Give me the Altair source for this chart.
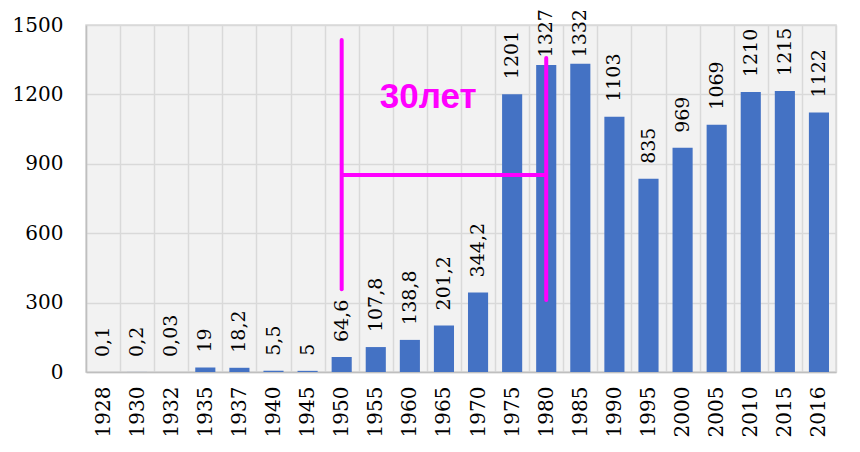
import altair as alt
import pandas as pd

years = ["1928", "1930", "1932", "1935", "1937", "1940", "1945", "1950", "1955", "1960", "1965",
         "1970", "1975", "1980", "1985", "1990", "1995", "2000", "2005", "2010", "2015", "2016"]
values = [0.1, 0.2, 0.03, 19, 18.2, 5.5, 5, 64.6, 107.8, 138.8, 201.2,
          344.2, 1201, 1327, 1332, 1103, 835, 969, 1069, 1210, 1215, 1122]
labels = ["0,1", "0,2", "0,03", "19", "18,2", "5,5", "5", "64,6", "107,8", "138,8", "201,2",
          "344,2", "1201", "1327", "1332", "1103", "835", "969", "1069", "1210", "1215", "1122"]
y_ticks = [0, 300, 600, 900, 1200, 1500]

# annotation (magenta bracket)
ann_years = ["1950", "1980"]
ann_tops = [1435, 1357]
ann_bottoms = [358, 311]
ann_h_value = 852
ann_text = "30лет"
ann_text_year = "1955"
ann_text_value = 1141

MAGENTA = "#ff00ff"
SERIF = "DejaVu Serif"

df = pd.DataFrame({"year": years, "value": values, "label": labels})
df_v = pd.DataFrame({"year": ann_years, "top": ann_tops, "bottom": ann_bottoms})
df_h = pd.DataFrame({"year": [ann_years[0]], "year2": [ann_years[1]], "y": [ann_h_value]})
df_t = pd.DataFrame({"year": [ann_text_year], "y": [ann_text_value], "t": [ann_text]})

xscale = alt.Scale(domain=years, paddingInner=0, paddingOuter=0)
x_enc = alt.X(
    "year:N", scale=xscale, sort=years, title=None,
    axis=alt.Axis(labelAngle=270, labelAlign="right", labelBaseline="middle",
                  labelPadding=14, labelFontSize=20, labelFont=SERIF,
                  labelColor="#000000", ticks=False, domainColor="#bfbfbf", domainWidth=1.5,
                  grid=True, gridColor="#d9d9d9", gridWidth=1.5, tickBand="extent"),
)
yscale = alt.Scale(domain=[0, 1500], nice=False)
y_axis = alt.Axis(values=y_ticks, format="d", labelPadding=23, labelFontSize=20, labelFont=SERIF,
                  labelColor="#000000", ticks=False, domainColor="#bfbfbf", domainWidth=1.5,
                  grid=True, gridColor="#d9d9d9", gridWidth=1.5, title=None)

bars = alt.Chart(df).mark_bar(color="#4472C4", width=alt.RelativeBandSize(0.59)).encode(
    x=x_enc,
    y=alt.Y("value:Q", scale=yscale, axis=y_axis),
)

texts = alt.Chart(df).transform_calculate(
    ly="min(datum.value, 1295)"
).mark_text(angle=270, align="left", baseline="middle", dx=15,
            font=SERIF, fontSize=19, color="#000000").encode(
    x=alt.X("year:N", scale=xscale, sort=years),
    y=alt.Y("ly:Q", scale=yscale),
    text="label:N",
)

vrules = alt.Chart(df_v).mark_rule(color=MAGENTA, strokeWidth=4, strokeCap="round").encode(
    x=alt.X("year:N", scale=xscale, sort=years),
    y=alt.Y("top:Q", scale=yscale),
    y2="bottom:Q",
)

hrule = alt.Chart(df_h).mark_rule(color=MAGENTA, strokeWidth=4).encode(
    x=alt.X("year:N", scale=xscale, sort=years),
    x2="year2:N",
    y=alt.Y("y:Q", scale=yscale),
)

ann = alt.Chart(df_t).mark_text(font="Liberation Sans", fontWeight="bold", fontSize=35,
                                 color=MAGENTA, align="left", baseline="alphabetic", dx=4).encode(
    x=alt.X("year:N", scale=xscale, sort=years),
    y=alt.Y("y:Q", scale=yscale),
    text="t:N",
)

chart = alt.layer(bars, texts, vrules, hrule, ann).properties(
    width=750, height=347,
    autosize=alt.AutoSizeParams(type="none"),
    padding={"left": 78, "top": 17, "right": 16, "bottom": 72},
    background="#ffffff",
).configure_view(fill="#f2f2f2", stroke="#d9d9d9", strokeWidth=1.5)

chart.save("out.html", embed_options={"renderer": "svg", "actions": False})
